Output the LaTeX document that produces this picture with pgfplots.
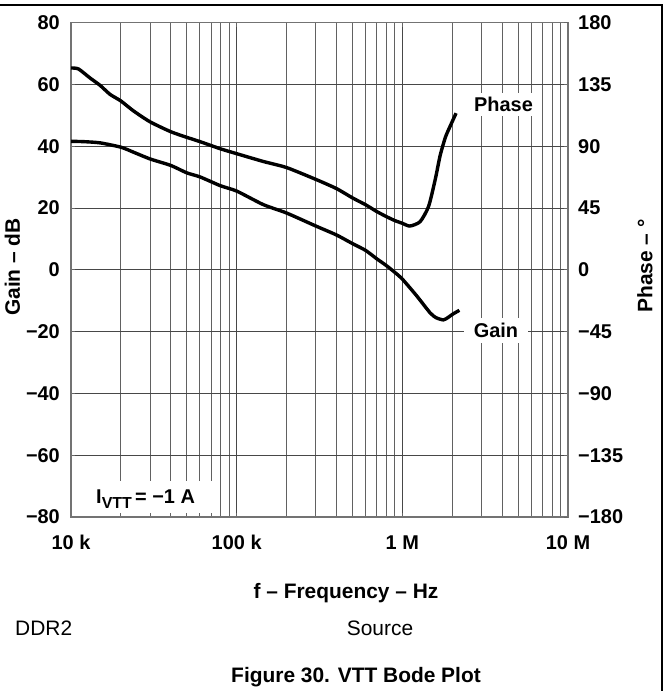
\documentclass[border=0pt]{standalone}
\usepackage{pgfplots}
\pgfplotsset{compat=1.18}
\usepackage{fontspec}
\setmainfont{Liberation Sans}
\begin{document}
\begin{tikzpicture}[x=1bp,y=1bp]
\useasboundingbox (-71,-174) rectangle (598,517);
\begin{axis}[
  at={(0,0)}, anchor=south west,
  width=497bp, height=494.3bp, scale only axis,
  xmode=log, xmin=1e4, xmax=1e7,
  tick label style={font=\bfseries\fontsize{20}{24}\selectfont},
  axis line style={line width=1.3bp, color=black!55},
  tick style={line width=0.9bp, color=black!60},
  major tick length=4bp, minor tick length=4bp,
  ymin=-80, ymax=80,
  ytick={-80,-60,...,80},
  yticklabels={−80,−60,−40,−20,0,20,40,60,80},
  xtick={1e4,1e5,1e6,1e7},
  xticklabels={10 k,100 k,1 M,10 M},
  minor xtick={2e4,3e4,4e4,5e4,6e4,7e4,8e4,9e4,2e5,3e5,4e5,5e5,6e5,7e5,8e5,9e5,2e6,3e6,4e6,5e6,6e6,7e6,8e6,9e6},
  xmajorgrids=true, xminorgrids=true, ymajorgrids=true,
  major grid style={line width=0.9bp, color=black!72},
  minor grid style={line width=0.9bp, color=black!62},
  yticklabel style={anchor=east, inner xsep=0bp, xshift=-11bp},
  xticklabel style={anchor=base, yshift=-32bp},
]
\addplot[line width=3.4bp, black, smooth, tension=0.4] coordinates {
(1e4,41.6) (1.19e4,41.5) (1.5e4,41.1) (2e4,39.7) (2.38e4,38.1) (3e4,35.9)
(4e4,33.8) (5e4,31.4) (6e4,30.1) (8e4,27.2) (1e5,25.5) (1.45e5,21.1)
(2e5,18.4) (3e5,14.2) (4e5,11.3) (5e5,8.5) (6e5,6.3) (7e5,3.6) (8e5,1.4)
(9e5,-0.8) (1e6,-3.0) (1.22e6,-8.4) (1.47e6,-13.9) (1.6e6,-15.5)
(1.77e6,-16.2) (1.89e6,-15.4) (2.02e6,-14.3) (2.21e6,-13.1)
};
\fill[white] (axis cs:1.025e4,-78.7) rectangle (axis cs:7.5e4,-68.4);
\node[anchor=base west, inner sep=0pt, font=\bfseries\fontsize{20}{24}\selectfont]
  at (axis cs:1.416e4,-75.5) {I\raisebox{-0.25em}{\fontsize{16}{18}\selectfont VTT}\,= −1 A};
\end{axis}
\begin{axis}[
  at={(0,0)}, anchor=south west,
  width=497bp, height=494.3bp, scale only axis,
  xmode=log, xmin=1e4, xmax=1e7,
  tick label style={font=\bfseries\fontsize{20}{24}\selectfont},
  axis line style={line width=1.3bp, color=black!55},
  tick style={line width=0.9bp, color=black!60},
  major tick length=4bp, minor tick length=4bp,
  ymin=-180, ymax=180,
  axis y line*=right, axis x line=none,
  ytick={-180,-135,...,180},
  yticklabels={−180,−135,−90,−45,0,45,90,135,180},
  yticklabel style={anchor=west, inner xsep=0bp, xshift=10bp},
]
\addplot[line width=3.4bp, black, smooth, tension=0.4] coordinates {
(1e4,147.0) (1.11e4,146.3) (1.3e4,139.8) (1.5e4,134.3) (1.72e4,127.8)
(2e4,123.0) (2.38e4,115.8) (3e4,107.8) (4e4,100.6) (5e4,96.5) (6e4,93.4)
(8e4,88.1) (1e5,84.6) (1.45e5,78.9) (2e5,74.5) (3e5,65.9) (4e5,59.2)
(5e5,52.4) (6e5,47.4) (7e5,42.5) (8e5,38.8) (9e5,35.9) (1e6,33.9)
(1.11e6,31.9) (1.28e6,35.1) (1.44e6,46.2) (1.58e6,65.9) (1.69e6,83.1)
(1.82e6,96.6) (1.95e6,105) (2.11e6,114.1)
};
\node[fill=white, inner xsep=9bp, inner ysep=4bp, font=\bfseries\fontsize{20}{24}\selectfont]
  at (axis cs:4.08e6,120.4) {Phase};
\node[fill=white, inner xsep=10bp, inner ysep=5bp, font=\bfseries\fontsize{20}{24}\selectfont]
  at (axis cs:3.67e6,-44.4) {Gain};
\end{axis}
\node[rotate=90, font=\bfseries\fontsize{21}{25}\selectfont] at (-58.5,250) {Gain – dB};
\node[rotate=90, font=\bfseries\fontsize{21}{25}\selectfont] at (574,251) {Phase – °};
\node[anchor=base, font=\bfseries\fontsize{21}{25}\selectfont] at (275,-81) {f – Frequency – Hz};
\node[anchor=base west, inner sep=0pt, font=\fontsize{21}{25}\selectfont] at (-56,-118) {DDR2};
\node[anchor=base, font=\fontsize{21}{25}\selectfont] at (309,-118) {Source};
\node[anchor=base, font=\bfseries\fontsize{21}{25}\selectfont] at (285,-165.7) {Figure 30. VTT Bode Plot};
\draw[line width=1.2bp] (-71,512) -- (591,512) -- (591,-174);
\end{tikzpicture}
\end{document}
